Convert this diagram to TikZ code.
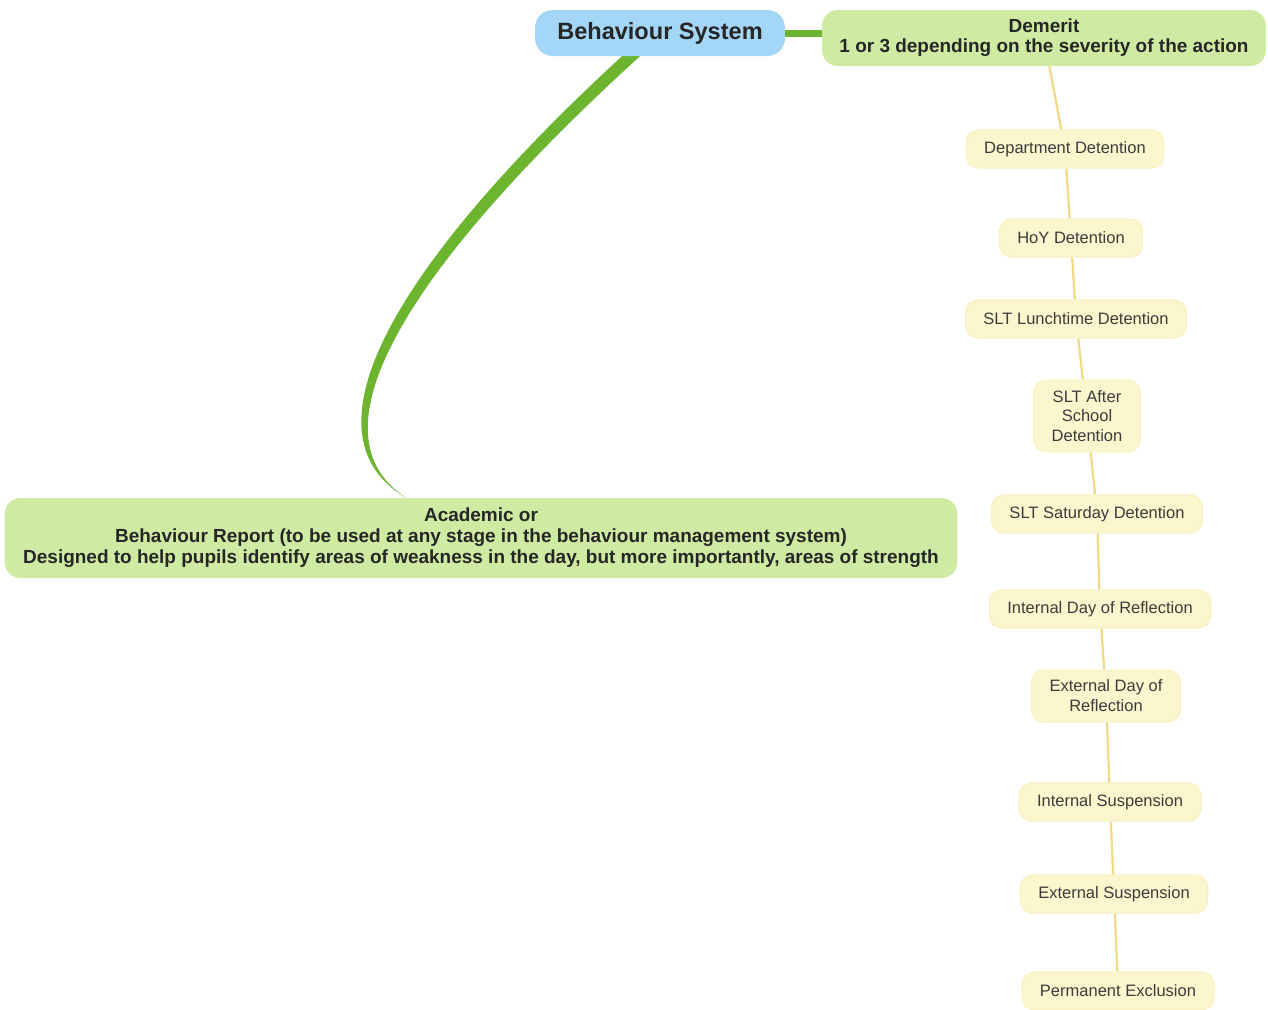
\documentclass[tikz,border=0pt]{standalone}
\usepackage{fontspec}
\setmainfont{Liberation Sans}
\usetikzlibrary{positioning}
\usetikzlibrary{backgrounds, calc}

\definecolor{topblue}{HTML}{A4D7F7}
\definecolor{leafgreen}{HTML}{CFEBA3}
\definecolor{stemgreen}{HTML}{6DB52E}
\definecolor{stepyellow}{HTML}{FCF6CE}
\definecolor{chainyellow}{HTML}{F0DA86}
\definecolor{inkgray}{HTML}{262626}

\begin{document}
\begin{tikzpicture}[x=0.02cm, y=-0.02cm]

\tikzset{root node/.style={
		fill=topblue, rounded corners=10pt, text=inkgray,
		font=\bfseries\fontsize{13.4}{16}\selectfont,
		minimum height=0.92cm, minimum width=5cm, inner sep=0pt
	},
	branch node/.style={
		fill=leafgreen, rounded corners=9pt, text=inkgray,
		align=center, inner sep=0pt
	},
	step node/.style={
		fill=stepyellow, draw=stepyellow!80!chainyellow, line width=0.6pt,
		rounded corners=7pt, text=inkgray!90,
		font=\fontsize{9.4}{11.3}\selectfont, align=center,
		minimum height=0.76cm, inner xsep=0.36cm, inner ysep=0.2cm
	},
	chain line/.style={chainyellow, line width=1.3pt}
}
\useasboundingbox (0,0) rectangle (1268,1009);

% top of the map
\node[root node] (root) at (660,33) {Behaviour System};
\node[branch node, minimum width=8.88cm, minimum height=1.12cm,
	font=\bfseries\fontsize{10.8}{11.4}\selectfont] (dem) at (1044,38)
	{Demerit\\1 or 3 depending on the severity of the action};
\node[branch node, minimum width=19.06cm, minimum height=1.6cm,
	font=\bfseries\fontsize{10.8}{11.9}\selectfont] (acad) at (481,538)
	{Academic or\\Behaviour Report (to be used at any stage in the behaviour management system)\\Designed to help pupils identify areas of weakness in the day, but more importantly, areas of strength};

% steps
\node[step node] (dept) at (1065,149) {Department Detention};
\node[step node] (hoy) at (1071,238) {HoY Detention};
\node[step node] (lunch) at (1076,319) {SLT Lunchtime Detention};
\node[step node] (after) at (1087,416) {SLT After\\School\\Detention};
\node[step node] (sat) at (1097,514) {SLT Saturday Detention};
\node[step node] (idr) at (1100,609) {Internal Day of Reflection};
\node[step node] (edr) at (1106,696) {External Day of\\Reflection};
\node[step node] (isus) at (1110,802) {Internal Suspension};
\node[step node] (esus) at (1114,894) {External Suspension};
\node[step node] (perm) at (1118,991) {Permanent Exclusion};

\begin{scope}[on background layer]
	\draw[stemgreen, line width=0.14cm] (root.east) -- (root.east -| dem.west);
	\fill[stemgreen] ($(root.south)+(-36,-2)$) .. controls (402,258) and (294,432) ..
		($(acad.north)+(-75,0)$) .. controls (302,430) and (420,256) ..
		($(root.south)+(-18,-2)$) -- cycle;
	\foreach \a/\b in {dem/dept, dept/hoy, hoy/lunch, lunch/after, after/sat,
		sat/idr, idr/edr, edr/isus, isus/esus, esus/perm}
		\draw[chain line] (\a) -- (\b);
\end{scope}

\end{tikzpicture}
\end{document}
